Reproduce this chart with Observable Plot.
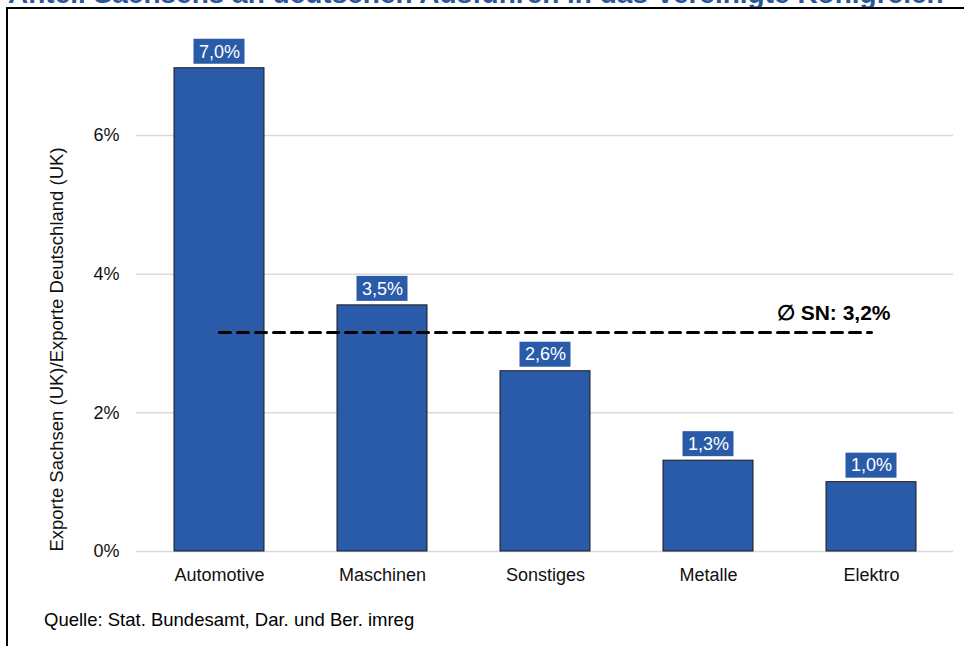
<!DOCTYPE html>
<html><head><meta charset="utf-8">
<script src="https://cdn.jsdelivr.net/npm/d3@7"></script>
<script src="https://cdn.jsdelivr.net/npm/@observablehq/plot@0.6"></script>
<style>
body{margin:0;background:#fff;font-family:Arial,"Liberation Sans",sans-serif;}
#wrap{position:relative;width:964px;height:646px;overflow:hidden;background:#fff;}
#title{position:absolute;left:8px;top:-20px;font-weight:bold;font-size:28px;line-height:28px;color:#2b5699;white-space:nowrap;}
#chart{position:absolute;left:0;top:0;}
#frame{position:absolute;left:6px;top:7px;width:980px;height:700px;border-left:2px solid #000;border-top:2px solid #000;pointer-events:none;}
#caption{position:absolute;left:44px;top:610px;font-size:18.5px;line-height:20px;color:#000;white-space:nowrap;}
</style></head>
<body>
<div id="wrap">
  <div id="title"></div>
  <div id="chart"></div>
  <div id="frame"></div>
  <div id="caption"></div>
</div>
<script>
const titleText = "Anteil Sachsens an deutschen Ausfuhren in das Vereinigte Königreich";
const captionText = "Quelle: Stat. Bundesamt, Dar. und Ber. imreg";
const yTitle = "Exporte Sachsen (UK)/Exporte Deutschland (UK)";
const categories = ["Automotive", "Maschinen", "Sonstiges", "Metalle", "Elektro"];
const values = [6.97, 3.55, 2.6, 1.31, 1.0];
const valueLabels = ["7,0%", "3,5%", "2,6%", "1,3%", "1,0%"];
const yTicks = [0, 2, 4, 6];
const yTickLabels = ["0%", "2%", "4%", "6%"];
const averageValue = 3.16;
const averageLabel = "∅ SN: 3,2%";
const averageSpan = ["Automotive", "Elektro"];

document.getElementById("title").textContent = titleText;
document.getElementById("caption").textContent = captionText;

const data = categories.map((c, i) => ({cat: c, v: values[i], label: valueLabels[i]}));
const avgLine = averageSpan.map(c => ({cat: c, v: averageValue}));
const avgText = [{cat: averageSpan[1], v: averageValue, t: averageLabel}];
const blue = "#2a5ba8";

const chart = Plot.plot({
  width: 964,
  height: 600,
  marginLeft: 136,
  marginRight: 11,
  marginTop: 31,
  marginBottom: 49,
  style: {fontFamily: 'Arial, "Liberation Sans", sans-serif', fontSize: "18px", background: "transparent", color: "#111"},
  x: {domain: categories, paddingInner: 0.45, paddingOuter: 0.225, label: null, tickSize: 0, tickPadding: 17},
  y: {domain: [0, 7.5], ticks: yTicks, tickFormat: d => yTickLabels[yTicks.indexOf(d)], label: null, tickSize: 0, tickPadding: 17},
  marks: [
    Plot.ruleY(yTicks, {stroke: "#d9d9d9", strokeWidth: 1.5}),
    Plot.barY(data, {x: "cat", y: "v", fill: blue, stroke: "#1a1a1a", strokeWidth: 1}),
    Plot.lineY(avgLine, {x: "cat", y: "v", stroke: "#000", strokeWidth: 3, strokeDasharray: "11,7"}),
    Plot.barY(data, {x: "cat", y1: "v", y2: "v", fill: blue, insetLeft: 19.5, insetRight: 19.5, insetTop: -29, insetBottom: 4}),
    Plot.text(data, {x: "cat", y: "v", text: "label", fill: "white", dy: -16.5, fontSize: 18}),
    Plot.text(avgText, {x: "cat", y: "v", text: "t", textAnchor: "end", dx: 19, dy: -19, fontWeight: "bold", fontSize: 21, fill: "#000"}),
    Plot.text([yTitle], {frameAnchor: "left", textAnchor: "middle", rotate: -90, dx: -79, dy: 58, fontSize: 18.5, fill: "#111"})
  ]
});
document.getElementById("chart").appendChild(chart);
</script>
</body></html>
